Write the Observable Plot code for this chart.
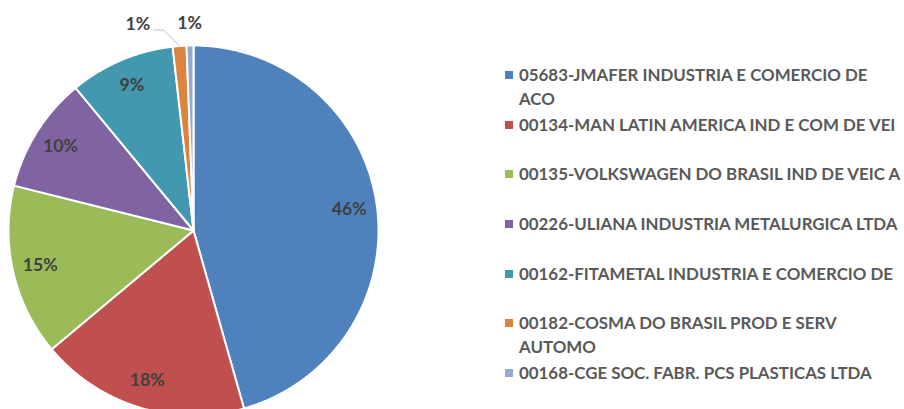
<!DOCTYPE html>
<html><head><meta charset="utf-8">
<script src="https://cdn.jsdelivr.net/npm/d3@7"></script>
<script src="https://cdn.jsdelivr.net/npm/@observablehq/plot@0.6"></script>
<style>
html,body{margin:0;padding:0;background:#fff;overflow:hidden;}
#wrap{position:relative;width:904px;height:409px;overflow:hidden;}
#legend{position:absolute;left:0;top:0;width:904px;height:409px;font-family:Lato,"Open Sans",sans-serif;font-weight:700;color:#595959;}
.item{position:absolute;left:505px;width:399px;}
.sw{position:absolute;left:0;width:8px;height:8px;}
.tx{position:absolute;left:14px;width:385px;line-height:24px;white-space:normal;}
</style></head>
<body><div id="wrap"><div id="chart"></div><div id="legend"></div></div>
<script>
const companies = [
  "05683-JMAFER INDUSTRIA E COMERCIO DE ACO",
  "00134-MAN LATIN AMERICA IND E COM DE VEI",
  "00135-VOLKSWAGEN DO BRASIL IND DE VEIC A",
  "00226-ULIANA INDUSTRIA METALURGICA LTDA",
  "00162-FITAMETAL INDUSTRIA E COMERCIO DE",
  "00182-COSMA DO BRASIL PROD E SERV AUTOMO",
  "00168-CGE SOC. FABR. PCS PLASTICAS LTDA"
];
const shares = [45.6, 18.3, 15.0, 10.1, 9.2, 1.2, 0.6];
const pctLabels = ["46%", "18%", "15%", "10%", "9%", "1%", "1%"];
const colors = ["#4F81BD", "#C0504D", "#9BBB59", "#8064A2", "#4198AF", "#DB843D", "#93A9CF"];

const R = 185; // pixel radius
const arcs = d3.pie().sort(null).value(d => d)(shares);

// polygon outline of every slice
const polys = [];
arcs.forEach((a, i) => {
  polys.push({c: companies[i], x: 0, y: 0});
  const n = Math.max(2, Math.ceil((a.endAngle - a.startAngle) / 0.005));
  for (let k = 0; k <= n; k++) {
    const t = a.startAngle + (a.endAngle - a.startAngle) * k / n;
    polys.push({c: companies[i], x: Math.sin(t), y: Math.cos(t)});
  }
  polys.push({c: companies[i], x: 0, y: 0});
});

// data labels
const labRows = arcs.map((a, i) => {
  const m = (a.startAngle + a.endAngle) / 2;
  const small = shares[i] < 3;
  const r = small ? 1.12 : 0.85;
  return {label: pctLabels[i], x: r * Math.sin(m), y: r * Math.cos(m), small, i};
});
// leader for the orange slice
const oa = arcs[5];
const om = (oa.startAngle + oa.endAngle) / 2;
const end = {x: Math.sin(om), y: Math.cos(om)};
const elbow = {x: end.x - 16 / R, y: end.y + 16 / R};
const start = {x: elbow.x - 10 / R, y: elbow.y};
const leader = [start, elbow, end];

const labelFont = "Lato, 'Open Sans', sans-serif";
const ctx = document.createElement("canvas").getContext("2d");
ctx.font = "700 16px Lato";
const labFs = 16 * 35 / ctx.measureText(pctLabels[0]).width;
const w16 = ctx.measureText(companies[2]).width;
const fs = 16 * 383 / w16;

const txtOpts = {x: "x", y: "y", text: "label", fontSize: labFs, fontWeight: 700, fill: "#404040", fontFamily: labelFont};

const plot = Plot.plot({
  width: 904, height: 409,
  margin: 0,
  x: {domain: [-1, 1], range: [193 - R, 193 + R], axis: null},
  y: {domain: [-1, 1], range: [230 + R, 230 - R], axis: null},
  color: {domain: companies, range: colors},
  style: {background: "white", overflow: "hidden"},
  marks: [
    Plot.line(polys, {x: "x", y: "y", z: "c", fill: "c", stroke: "white", strokeWidth: 2, strokeLinejoin: "round", curve: "linear"}),
    Plot.line(leader, {x: "x", y: "y", stroke: "#BFBFBF", strokeWidth: 1}),
    Plot.text(labRows.filter(d => !d.small), txtOpts),
    Plot.text(labRows.filter(d => d.small && d.i === 6), txtOpts),
    Plot.text(labRows.filter(d => d.small && d.i === 5), {...txtOpts, dx: -40})
  ]
});
document.getElementById("chart").appendChild(plot);

const leg = document.getElementById("legend");
leg.style.fontSize = fs + "px";
companies.forEach((c, i) => {
  const yc = 75 + 49.67 * i;
  const it = document.createElement("div");
  it.className = "item";
  it.style.top = (yc - 12) + "px";
  const sw = document.createElement("div");
  sw.className = "sw";
  sw.style.background = colors[i];
  sw.style.top = "8px";
  const tx = document.createElement("div");
  tx.className = "tx";
  tx.textContent = c;
  it.appendChild(sw); it.appendChild(tx);
  leg.appendChild(it);
});
</script>
</body></html>
